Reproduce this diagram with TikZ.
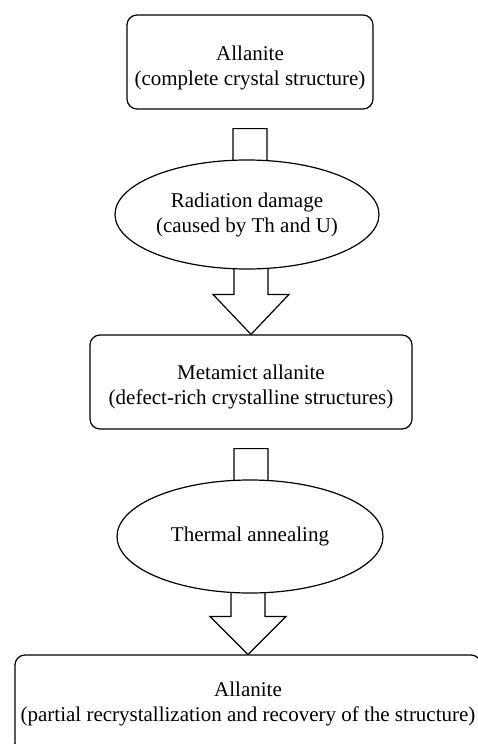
\documentclass[tikz,border=0pt]{standalone}
\usepackage{fontspec}
\setmainfont{Liberation Serif}
\usetikzlibrary{shapes.geometric,calc}
\pgfdeclarelayer{background}
\pgfsetlayers{background,main}
\begin{document}
\begin{tikzpicture}[x=1pt,y=-1pt,
  lbl/.style={align=center,font=\fontsize{21}{25}\selectfont,inner sep=0pt},
  rbox/.style={lbl,draw,rounded corners=10pt,line width=1.2pt,fill=white},
  ell/.style={lbl,draw,ellipse,line width=1.2pt,fill=white},
  barrow/.style={draw,fill=white,line width=1.2pt,line join=miter}]
\useasboundingbox (0,0) rectangle (478,744);
\clip (0,0) rectangle (478,744);
\node[rbox,minimum width=246pt,minimum height=94pt] (b1) at (250,62)
  {\rule{0pt}{26pt}Allanite\\(complete crystal structure)};
\node[ell,minimum width=264pt,minimum height=109pt] (e1) at (247,214.5)
  {Radiation damage\\(caused by Th and U)};
\node[rbox,minimum width=322pt,minimum height=94pt] (b2) at (251,382)
  {\rule{0pt}{25pt}Metamict allanite\\(defect-rich crystalline structures)};
\node[ell,minimum width=266pt,minimum height=113pt] (e2) at (250,536.5)
  {Thermal annealing};
\node[rbox,minimum width=466pt,minimum height=98pt] (b3) at (248,704)
  {Allanite\\(partial recrystallization and recovery of the structure)};
\begin{pgfonlayer}{background}
\draw[barrow] let \p1=(b1.south), \p2=(e1.center) in
  (\x1-17pt,\y1-19pt) -- (\x1-17pt,\y2+40pt) -- (\x1-38pt,\y2+40pt) -- (\x1,\y2)
  -- (\x1+38pt,\y2+40pt) -- (\x1+17pt,\y2+40pt) -- (\x1+17pt,\y1-19pt) -- cycle;
\draw[barrow] let \p1=(e1.center), \p2=(b2.north) in
  (\x2-17pt,\y1) -- (\x2-17pt,\y2+40pt) -- (\x2-38pt,\y2+40pt) -- (\x2,\y2)
  -- (\x2+38pt,\y2+40pt) -- (\x2+17pt,\y2+40pt) -- (\x2+17pt,\y1) -- cycle;
\draw[barrow] let \p1=(b2.south), \p2=(e2.center) in
  (\x1-17pt,\y1-19pt) -- (\x1-17pt,\y2+40pt) -- (\x1-38pt,\y2+40pt) -- (\x1,\y2)
  -- (\x1+38pt,\y2+40pt) -- (\x1+17pt,\y2+40pt) -- (\x1+17pt,\y1-19pt) -- cycle;
\draw[barrow] let \p1=(e2.center), \p2=(b3.north) in
  (\x2-17pt,\y1) -- (\x2-17pt,\y2+38pt) -- (\x2-38pt,\y2+38pt) -- (\x2,\y2)
  -- (\x2+38pt,\y2+38pt) -- (\x2+17pt,\y2+38pt) -- (\x2+17pt,\y1) -- cycle;
\end{pgfonlayer}
\end{tikzpicture}
\end{document}
